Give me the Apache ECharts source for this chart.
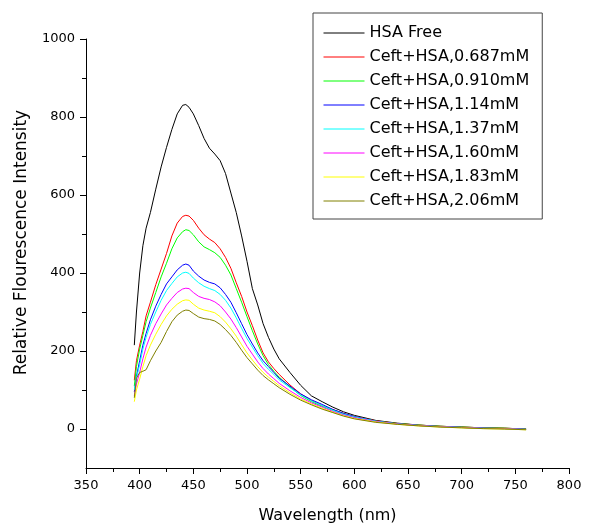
<!DOCTYPE html>
<html>
<head>
<meta charset="utf-8">
<script src="https://cdn.jsdelivr.net/npm/echarts@6/dist/echarts.min.js"></script>
<style>
html,body{margin:0;padding:0;background:#fff;}
#chart{width:594px;height:527px;}
</style>
</head>
<body>
<div id="chart"></div>
<script>
var wavelengths = [395,397,400,403,406,410,415,420,425,430,435,440,443,446,450,455,460,465,470,475,480,485,490,495,500,505,510,515,520,525,530,540,550,560,570,580,590,600,620,640,660,680,700,720,740,760];

var seriesNames = ["HSA Free","Ceft+HSA,0.687mM","Ceft+HSA,0.910mM","Ceft+HSA,1.14mM","Ceft+HSA,1.37mM","Ceft+HSA,1.60mM","Ceft+HSA,1.83mM","Ceft+HSA,2.06mM"];

var hsaFree = [215,300,400,470,515,555,615,672,722,768,808,830,832,825,808,778,745,720,705,688,655,605,555,495,430,360,318,270,235,205,180,145,112,85,70,56,44,35,22,15,10,7,5,3,2,0];
var ceft0687 = [125,175,215,250,290,325,370,410,450,495,528,545,548,546,535,515,498,487,478,462,440,412,375,340,300,265,228,195,172,155,140,113,90,73,60,50,40,32,21,14,10,7,5,3,2,0];
var ceft0910 = [110,160,205,240,275,310,350,390,425,462,490,506,511,509,498,480,467,460,452,440,420,395,360,325,288,252,218,188,165,148,133,108,86,70,58,48,38,31,20,14,10,7,5,3,2,0];
var ceft114 = [95,135,175,215,245,280,315,345,372,390,408,420,423,420,405,392,382,376,372,362,345,325,298,270,242,218,195,175,160,145,130,110,90,75,63,50,40,32,20,13,9,6,4,2,1,-1];
var ceft137 = [100,130,165,205,235,268,300,330,355,373,390,400,402,399,387,375,366,360,355,345,330,310,285,258,232,210,188,168,153,140,126,106,87,72,60,48,38,31,20,13,9,6,4,2,1,-1];
var ceft160 = [85,115,145,180,210,240,270,295,318,335,350,359,361,360,350,340,335,332,326,316,300,282,260,236,212,192,172,155,141,129,117,98,81,67,56,45,36,29,19,13,9,6,4,2,1,-1];
var ceft183 = [70,100,128,160,188,215,243,268,290,307,320,329,331,330,320,310,305,302,298,288,274,257,238,216,195,177,160,145,133,122,111,93,77,64,53,43,34,27,18,12,8,5,3,1,0,-2];
var ceft206 = [80,130,145,148,152,175,200,222,250,275,292,302,305,304,296,287,283,281,277,268,255,240,222,202,183,167,151,137,126,116,106,89,74,62,51,42,33,26,17,12,8,5,3,1,0,-2];

var seriesValues = [hsaFree, ceft0687, ceft0910, ceft114, ceft137, ceft160, ceft183, ceft206];
var seriesColors = ["#000000","#ff0000","#00ff00","#0000ff","#00ffff","#ff00ff","#ffff00","#808000"];

var xMin = 350, xMax = 800, xStep = 50;
var yMajorTicks = [0,200,400,600,800,1000];
var yMinorTicks = [100,300,500,700,900];
var yMin = -100, yMax = 1000;

var FONT = "DejaVu Sans";

var series = seriesNames.map(function(name, i){
  return {
    name: name,
    type: 'line',
    symbol: 'none',
    showSymbol: false,
    smooth: false,
    color: seriesColors[i],
    itemStyle: {color: seriesColors[i]},
    lineStyle: {width: 1, color: seriesColors[i]},
    data: wavelengths.map(function(w, j){ return [w, seriesValues[i][j]]; }),
    animation: false
  };
});

var chart = echarts.init(document.getElementById('chart'), null, {renderer: 'canvas'});
chart.setOption({
  animation: false,
  backgroundColor: '#ffffff',
  textStyle: {fontFamily: FONT},
  grid: {left: 86, right: 25, top: 39, bottom: 59, containLabel: false, outerBoundsMode: 'none'},
  legend: {
    orient: 'vertical',
    left: 313,
    top: 13,
    padding: [12, 13, 10, 10],
    itemWidth: 41,
    itemHeight: 16,
    itemGap: 8,
    itemTextGap: 6,
    borderColor: '#444',
    borderWidth: 1,
    backgroundColor: '#fff',
    itemStyle: {opacity: 0, borderWidth: 0},
    lineStyle: {width: 1},
    textStyle: {fontFamily: FONT, fontSize: 16, color: '#000'},
    data: seriesNames
  },
  xAxis: {
    type: 'value',
    min: xMin, max: xMax, interval: xStep,
    name: 'Wavelength (nm)',
    nameLocation: 'middle',
    nameGap: 40,
    nameTextStyle: {fontFamily: FONT, fontSize: 16, color: '#000'},
    axisLine: {show: true, onZero: false, lineStyle: {color: '#000', width: 1}},
    axisTick: {show: true, inside: false, length: 6, lineStyle: {color: '#000'}},
    minorTick: {show: true, splitNumber: 2, length: 4, lineStyle: {color: '#000'}},
    axisLabel: {fontFamily: FONT, fontSize: 13, color: '#000', margin: 11, formatter: function(v){ return String(v); }},
    splitLine: {show: false},
    minorSplitLine: {show: false}
  },
  yAxis: [{
    type: 'value',
    min: yMin, max: yMax,
    name: 'Relative Flourescence Intensity',
    nameLocation: 'middle',
    nameRotate: 90,
    nameGap: 56,
    nameTextStyle: {fontFamily: FONT, fontSize: 17, color: '#000', padding: [0, 0, 0, 22]},
    axisLine: {show: true, onZero: false, lineStyle: {color: '#000', width: 1}},
    axisTick: {show: true, inside: false, length: 6, customValues: yMajorTicks, lineStyle: {color: '#000'}},
    axisLabel: {fontFamily: FONT, fontSize: 13, color: '#000', margin: 11, customValues: yMajorTicks, formatter: function(v){ return String(v); }},
    splitLine: {show: false}
  }, {
    type: 'value',
    min: yMin, max: yMax,
    position: 'left',
    axisLine: {show: false},
    axisTick: {show: true, inside: false, length: 4, customValues: yMinorTicks, lineStyle: {color: '#000'}},
    axisLabel: {show: false, customValues: yMinorTicks},
    splitLine: {show: false}
  }],
  series: series
});
</script>
</body>
</html>
